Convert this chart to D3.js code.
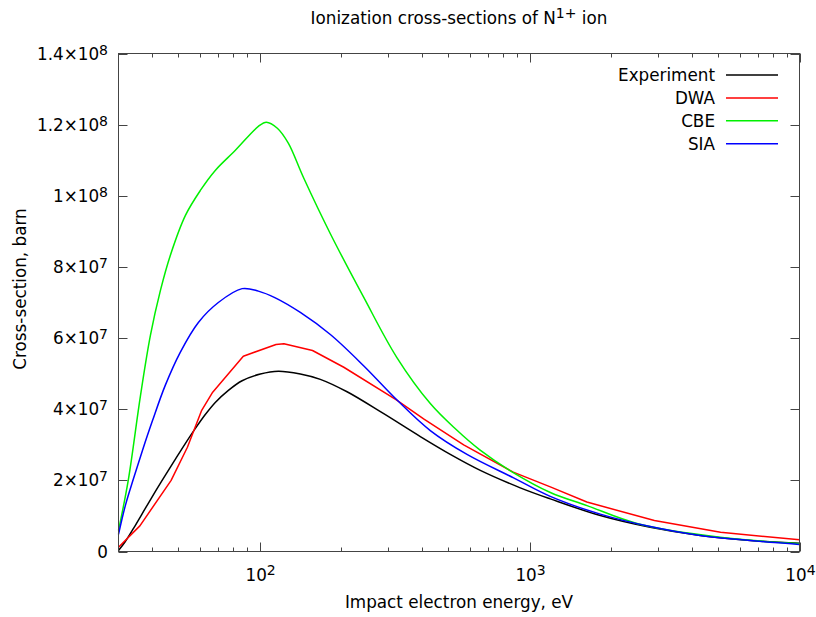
<!DOCTYPE html>
<html lang="en">
<head>
<meta charset="UTF-8" />
<title>Ionization cross-sections of N1+ ion</title>
<script src="https://d3js.org/d3.v7.min.js"></script>
<style>
  html, body { margin: 0; padding: 0; background: #fff; overflow: hidden; }
  svg text {
    font-family: 'DejaVu Sans', sans-serif;
    font-size: 16.8px;
    fill: #000;
  }
  .frame { fill: none; stroke: #444; stroke-width: 1; }
  .tick-mark { stroke: #444; stroke-width: 1; }
  .series { fill: none; stroke-width: 1.5; stroke-linejoin: round; }
</style>
</head>
<body>
<svg id="chart" width="816" height="617"></svg>
<script>
// energies in eV, cross-sections in units of 1e7 barn
const energyExp = [30, 31.8, 34.6, 37.7, 41.1, 44.7, 48.7, 53.1, 57.8, 62.9, 68.5, 76.6, 86.1, 100.6, 117.3, 141.5, 167.8, 210.8, 287.2, 393.8, 508.5, 656.8, 923.8, 1193, 1828, 2799, 4288, 6569, 10000];
const experiment = [0.03, 0.28, 0.73, 1.21, 1.69, 2.14, 2.59, 3.04, 3.46, 3.85, 4.19, 4.53, 4.80, 4.99, 5.07, 4.99, 4.84, 4.49, 3.88, 3.23, 2.73, 2.28, 1.79, 1.48, 1.01, 0.68, 0.45, 0.31, 0.23];

const energySia = [30, 31.8, 34.1, 36.8, 40.1, 44.7, 50.8, 59.3, 70.3, 86.1, 98.9, 114.3, 141.5, 182.8, 242.2, 323.6, 428.8, 586.4, 872.4, 1193, 1828, 2799, 4288, 6569, 10000];
const sia = [0.48, 1.29, 2.05, 2.84, 3.68, 4.67, 5.60, 6.44, 7.00, 7.39, 7.32, 7.13, 6.72, 6.10, 5.23, 4.25, 3.40, 2.73, 2.07, 1.55, 1.05, 0.70, 0.45, 0.31, 0.20];

const energyCbe = [30, 32.6, 36.2, 39.4, 42.9, 46.7, 53.1, 60.3, 68.6, 81.3, 98.9, 105.9, 116.3, 127.7, 145.2, 182.6, 242.8, 322, 428.8, 531, 656, 870, 1194, 1632, 2500, 5080, 10000];
const cbe = [0.59, 2.0, 4.39, 6.08, 7.34, 8.33, 9.45, 10.15, 10.72, 11.28, 11.95, 12.07, 11.9, 11.48, 10.52, 8.94, 7.15, 5.46, 4.16, 3.45, 2.85, 2.22, 1.66, 1.29, 0.79, 0.40, 0.22];

const energyDwa = [30, 36, 47, 54, 61, 67, 87, 115, 123, 157, 205, 320, 405, 570, 870, 1200, 1630, 2900, 5100, 10000];
const dwa = [0.12, 0.72, 2.0, 2.93, 3.97, 4.48, 5.49, 5.82, 5.84, 5.65, 5.18, 4.27, 3.73, 3.0, 2.23, 1.81, 1.39, 0.87, 0.54, 0.33];

const seriesNames = ["Experiment", "DWA", "CBE", "SIA"];
const seriesColors = ["#000000", "#ff0000", "#00f000", "#0000ff"];

const xMajor = [100, 1000, 10000];
const xMajorExp = ["2", "3", "4"];
const yTicks = [0, 2e7, 4e7, 6e7, 8e7, 1e8, 1.2e8, 1.4e8];
const yTickMant = ["0", "2", "4", "6", "8", "1", "1.2", "1.4"];
const yTickExp = ["", "7", "7", "7", "7", "8", "8", "8"];

const plotLeft = 118.5, plotRight = 799.5, plotTop = 53.5, plotBottom = 551.5;

const svg = d3.select("#chart");
const x = d3.scaleLog().domain([30, 10000]).range([plotLeft, plotRight]);
const y = d3.scaleLinear().domain([0, 1.4e8]).range([plotBottom, plotTop]);

// minor ticks on log axis
const xMinor = [];
[10, 100, 1000].forEach(dec => {
  for (let m = 2; m <= 9; m++) {
    const v = dec * m;
    if (v > 30 && v < 10000) xMinor.push(v);
  }
});

const ticks = svg.append("g");
function tickLines(vals, len) {
  vals.forEach(v => {
    const px = Math.round(x(v)) + 0.5;
    ticks.append("line").attr("class", "tick-mark")
      .attr("x1", px).attr("x2", px).attr("y1", plotBottom).attr("y2", plotBottom - len);
    ticks.append("line").attr("class", "tick-mark")
      .attr("x1", px).attr("x2", px).attr("y1", plotTop).attr("y2", plotTop + len);
  });
}
tickLines(xMajor, 9);
tickLines(xMinor, 4);

yTicks.forEach(v => {
  const py = Math.round(y(v)) + 0.5;
  ticks.append("line").attr("class", "tick-mark")
    .attr("x1", plotLeft).attr("x2", plotLeft + 9).attr("y1", py).attr("y2", py);
  ticks.append("line").attr("class", "tick-mark")
    .attr("x1", plotRight).attr("x2", plotRight - 9).attr("y1", py).attr("y2", py);
});

// tick labels
xMajor.forEach((v, i) => {
  const t = svg.append("text")
    .attr("x", x(v) + 1).attr("y", 581)
    .attr("text-anchor", "middle");
  t.append("tspan").text("10");
  t.append("tspan").attr("dy", -6).style("font-size", "14px").text(xMajorExp[i]);
});

yTicks.forEach((v, i) => {
  const t = svg.append("text")
    .attr("x", 108).attr("y", y(v) + 6)
    .attr("text-anchor", "end");
  if (yTickExp[i] === "") {
    t.text(yTickMant[i]);
  } else {
    t.append("tspan").text(yTickMant[i] + "\u00d710");
    t.append("tspan").attr("dy", -5).style("font-size", "14px").text(yTickExp[i]);
  }
});

// series
const lineSmooth = d3.line()
  .x(d => x(d[0])).y(d => y(d[1] * 1e7))
  .curve(d3.curveCatmullRom.alpha(0.5));
const lineStraight = d3.line()
  .x(d => x(d[0])).y(d => y(d[1] * 1e7));

const plot = svg.append("g");
plot.append("path").attr("class", "series")
  .attr("stroke", seriesColors[0])
  .attr("d", lineSmooth(d3.zip(energyExp, experiment)));
plot.append("path").attr("class", "series")
  .attr("stroke", seriesColors[1])
  .attr("d", lineStraight(d3.zip(energyDwa, dwa)));
plot.append("path").attr("class", "series")
  .attr("stroke", seriesColors[2])
  .attr("d", lineSmooth(d3.zip(energyCbe, cbe)));
plot.append("path").attr("class", "series")
  .attr("stroke", seriesColors[3])
  .attr("d", lineSmooth(d3.zip(energySia, sia)));

// frame
svg.append("rect").attr("class", "frame")
  .attr("x", plotLeft).attr("y", plotTop)
  .attr("width", plotRight - plotLeft).attr("height", plotBottom - plotTop);

// legend
const legend = svg.append("g");
seriesNames.forEach((name, i) => {
  const ly = 75 + i * 22.9;
  legend.append("text")
    .attr("x", 715).attr("y", ly + 6)
    .attr("text-anchor", "end").text(name);
  legend.append("line")
    .attr("x1", 726).attr("x2", 778)
    .attr("y1", ly).attr("y2", ly)
    .attr("stroke", seriesColors[i]).attr("stroke-width", 1.5);
});

// title and axis labels
const title = svg.append("text")
  .attr("x", 459).attr("y", 24).attr("text-anchor", "middle");
title.append("tspan").text("Ionization cross-sections of N");
title.append("tspan").attr("dy", -6).style("font-size", "14px").text("1+");
title.append("tspan").attr("dy", 6).text(" ion");

svg.append("text")
  .attr("x", 459).attr("y", 608)
  .attr("text-anchor", "middle")
  .text("Impact electron energy, eV");

svg.append("text")
  .attr("transform", "translate(26,289) rotate(-90)")
  .attr("text-anchor", "middle")
  .text("Cross-section, barn");
</script>
</body>
</html>
